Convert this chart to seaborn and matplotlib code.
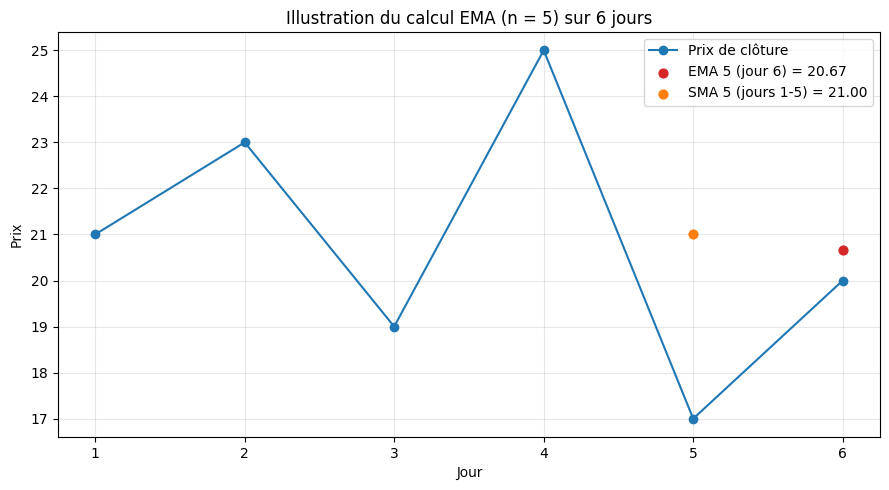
import matplotlib
matplotlib.use("Agg")
import matplotlib.pyplot as plt
import seaborn as sns
import pandas as pd

days = [1, 2, 3, 4, 5, 6]
prices = [21, 23, 19, 25, 17, 20]
ema_day = [6]
ema_val = [20.67]
sma_day = [5]
sma_val = [21.00]

df = pd.DataFrame({"Jour": days, "Prix": prices})

fig, ax = plt.subplots(figsize=(8.89, 4.9), dpi=100)
sns.lineplot(data=df, x="Jour", y="Prix", marker="o", color="tab:blue",
             markeredgecolor="tab:blue", markeredgewidth=1, markersize=6,
             label="Prix de clôture", ax=ax)
sns.scatterplot(x=ema_day, y=ema_val, color="tab:red", s=40, edgecolor="tab:red",
                linewidth=1, label=f"EMA 5 (jour 6) = {ema_val[0]:.2f}", ax=ax, zorder=3)
sns.scatterplot(x=sma_day, y=sma_val, color="tab:orange", s=40, edgecolor="tab:orange",
                linewidth=1, label=f"SMA 5 (jours 1-5) = {sma_val[0]:.2f}", ax=ax, zorder=3)
ax.set_title("Illustration du calcul EMA (n = 5) sur 6 jours")
ax.set_xlabel("Jour", fontsize=10, family=["Noto Sans", "DejaVu Sans"])
ax.set_ylabel("Prix", fontsize=10, family=["Noto Sans", "DejaVu Sans"])
ax.set_xticks(days)
ax.grid(True, alpha=0.3)
ax.legend(loc="upper right")
fig.subplots_adjust(left=0.065, right=0.99, top=0.935, bottom=0.108)
fig.savefig("out.png", dpi=100)
